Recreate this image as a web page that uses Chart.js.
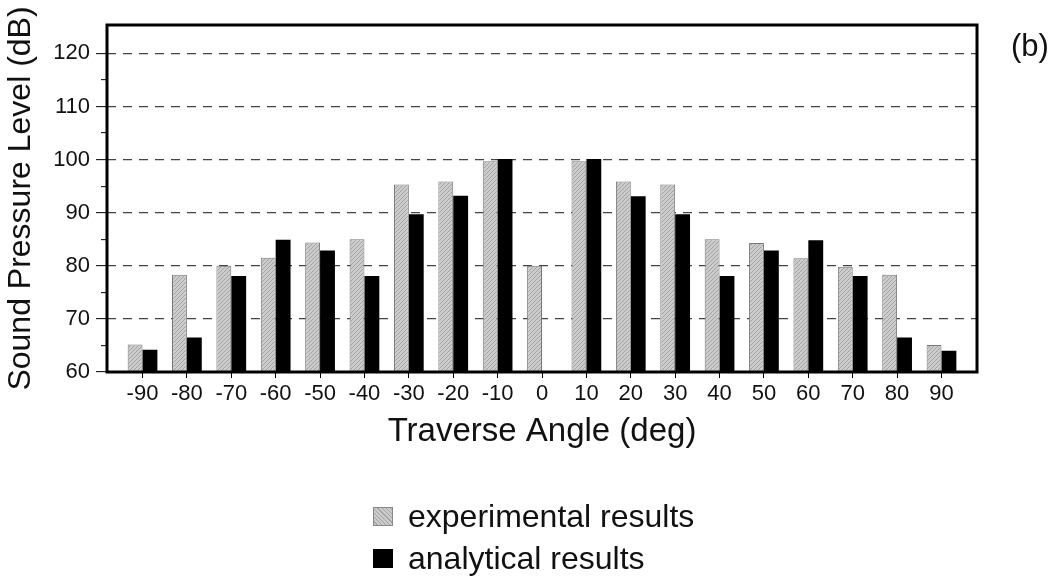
<!DOCTYPE html>
<html lang="en">
<head>
    <meta charset="UTF-8">
    <title>Sound Pressure Level vs Traverse Angle</title>
    <script src="https://cdn.jsdelivr.net/npm/chart.js@4.4.1/dist/chart.umd.min.js"></script>
    <style>
        body { margin: 0; background: #fff; font-family: "Liberation Sans", Arial, sans-serif; }
        #wrap { position: relative; width: 1064px; height: 577px; }
        #panel { position: absolute; left: 1011px; top: 28px; font-size: 31px; color: #111; }
        .leg { position: absolute; left: 373px; font-size: 32px; color: #111; height: 38px; line-height: 38px; }
        .leg span.box { display: inline-block; width: 20px; height: 19px; vertical-align: middle; margin-right: 15px; box-sizing: border-box; position: relative; top: -2px; }
    </style>
</head>
<body>
<div id="wrap">
    <canvas id="myChart" width="1064" height="577"></canvas>
    <div id="panel">(b)</div>
    <div class="leg" style="top:497px;"><span class="box" style="background: repeating-linear-gradient(45deg, #cbcbcb 0 2px, #a4a4a4 2px 3px); border:1px solid #888;"></span>experimental results</div>
    <div class="leg" style="top:539px;"><span class="box" style="background:#000;"></span>analytical results</div>
</div>

<script>
    // traverse angle categories (deg)
    const angles = [-90, -80, -70, -60, -50, -40, -30, -20, -10, 0, 10, 20, 30, 40, 50, 60, 70, 80, 90];
    // sound pressure level (dB)
    const experimental = [65.2, 78.3, 80.0, 81.5, 84.4, 85.0, 95.3, 95.9, 99.7, 80.0, 99.7, 95.9, 95.3, 85.0, 84.3, 81.4, 79.8, 78.3, 65.1];
    const analytical = [64.2, 66.5, 78.1, 84.9, 82.9, 78.1, 89.7, 93.2, 100.1, null, 100.1, 93.1, 89.7, 78.1, 82.9, 84.8, 78.1, 66.5, 64.0];
    const yTicks = [60, 65, 70, 75, 80, 85, 90, 95, 100, 105, 110, 115, 120];

    const FONT = "'Liberation Sans', Arial, sans-serif";

    function hatch() {
        const c = document.createElement("canvas");
        c.width = 4; c.height = 4;
        const g = c.getContext("2d");
        g.fillStyle = "#cccccc";
        g.fillRect(0, 0, 4, 4);
        g.strokeStyle = "#a2a2a2";
        g.lineWidth = 1;
        g.beginPath();
        g.moveTo(0, 4); g.lineTo(4, 0);
        g.moveTo(-1, 1); g.lineTo(1, -1);
        g.moveTo(3, 5); g.lineTo(5, 3);
        g.stroke();
        return g.createPattern(c, "repeat");
    }

    // thick frame round the plot area
    const frame = {
        id: "frame",
        afterDatasetsDraw(chart) {
            const a = chart.chartArea, ctx = chart.ctx;
            ctx.save();
            ctx.strokeStyle = "#000";
            ctx.lineWidth = 3;
            ctx.strokeRect(a.left, a.top, a.right - a.left, a.bottom - a.top);
            ctx.restore();
        }
    };

    new Chart("myChart", {
        type: "bar",
        data: {
            datasets: [{
                label: "experimental results",
                data: angles.map((a, i) => ({x: a, y: experimental[i]})),
                backgroundColor: hatch(),
                borderColor: "#777",
                borderWidth: 1
            }, {
                label: "analytical results",
                data: angles.map((a, i) => ({x: a, y: analytical[i]})),
                backgroundColor: "#000",
                borderColor: "#000",
                borderWidth: 0
            }]
        },
        options: {
            responsive: false,
            animation: false,
            layout: {padding: {top: 25, right: 87, bottom: 125, left: 0}},
            datasets: {bar: {categoryPercentage: 0.67, barPercentage: 1}},
            plugins: {legend: {display: false}, tooltip: {enabled: false}},
            scales: {
                x: {
                    type: "linear",
                    offset: false,
                    min: -98,
                    max: 98,
                    afterBuildTicks: s => { s.ticks = angles.map(v => ({value: v})); },
                    afterFit: s => { s.height = 80; },
                    grid: {offset: false, drawOnChartArea: false, tickLength: 6, tickColor: "#000", tickWidth: 1},
                    border: {display: false},
                    ticks: {color: "#111", font: {family: FONT, size: 22}, padding: 3, maxRotation: 0, autoSkip: false},
                    title: {display: true, text: "Traverse Angle (deg)", color: "#111", font: {family: FONT, size: 33}, padding: {top: 0, bottom: 0}}
                },
                y: {
                    min: 60,
                    max: 125.35,
                    afterBuildTicks: s => { s.ticks = yTicks.map(v => ({value: v})); },
                    afterFit: s => { s.width = 107; },
                    grid: {
                        color: c => (c.tick && c.tick.value % 10 === 0) ? "#444" : "rgba(0,0,0,0)",
                        lineWidth: 1.3,
                        tickLength: 11,
                        tickColor: "#000",
                        tickWidth: 1,
                        tickBorderDash: c => (c.tick && c.tick.value % 10 !== 0) ? [0, 5, 20, 0] : []
                    },
                    border: {display: false, dash: [9, 7]},
                    ticks: {
                        color: "#111",
                        font: {family: FONT, size: 22},
                        padding: 6,
                        autoSkip: false,
                        callback: v => (v % 10 === 0 ? v : "")
                    },
                    title: {display: true, text: "Sound Pressure Level (dB)", color: "#111", font: {family: FONT, size: 32}, padding: {top: 2, bottom: 0}}
                }
            }
        },
        plugins: [frame]
    });
</script>
</body>
</html>
